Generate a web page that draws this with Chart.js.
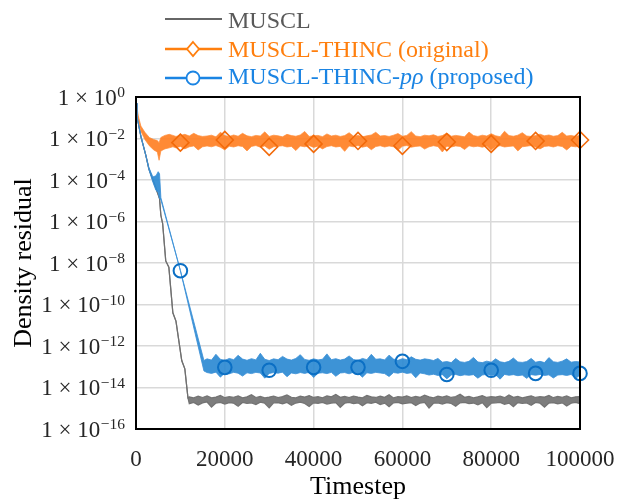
<!DOCTYPE html>
<html>
<head>
<meta charset="utf-8">
<script src="https://cdn.jsdelivr.net/npm/chart.js@4.4.0/dist/chart.umd.min.js"></script>
<style>
  body { margin: 0; background: #fff; }
  #wrap { position: relative; width: 618px; height: 504px; font-family: 'Liberation Serif', 'Times New Roman', serif; }
  #chart { position: absolute; left: 0; top: 0; }
  .leg-line { position: absolute; left: 163px; width: 62px; height: 20px; }
  .leg-text { position: absolute; left: 228px; font-size: 24px; line-height: 28px; white-space: nowrap; }
</style>
</head>
<body>
<div id="wrap">
  <canvas id="chart" width="618" height="504"></canvas>
  <svg class="leg-line" style="top:8.5px" viewBox="0 0 62 20"><line x1="2" y1="10" x2="59" y2="10" stroke="#666666" stroke-width="2.2"/></svg>
  <div class="leg-text" style="top:5.9px; color:#595959">MUSCL</div>
  <svg class="leg-line" style="top:39px" viewBox="0 0 62 20"><line x1="2" y1="10" x2="59" y2="10" stroke="#ff7f0e" stroke-width="2.5"/><polygon points="30,3 36,10 30,17 24,10" fill="#fff" stroke="#ff7f0e" stroke-width="1.8"/></svg>
  <div class="leg-text" style="top:35.4px; color:#ff7f0e">MUSCL-THINC (original)</div>
  <svg class="leg-line" style="top:67.5px" viewBox="0 0 62 20"><line x1="2" y1="10" x2="59" y2="10" stroke="#1a84e3" stroke-width="2.5"/><circle cx="30" cy="10" r="6.5" fill="#fff" stroke="#1a84e3" stroke-width="1.8"/></svg>
  <div class="leg-text" style="top:61.9px; color:#1a84e3">MUSCL-THINC-<i>pρ</i> (proposed)</div>
</div>
<script>
// all residual values are log10 exponents
const yTickExps = [0, -2, -4, -6, -8, -10, -12, -14, -16];

// steady noisy part, sampled every 1000 steps
const bandSteps = [
  16000, 17000, 18000, 19000, 20000, 21000, 22000, 23000, 24000, 25000,
  26000, 27000, 28000, 29000, 30000, 31000, 32000, 33000, 34000, 35000,
  36000, 37000, 38000, 39000, 40000, 41000, 42000, 43000, 44000, 45000,
  46000, 47000, 48000, 49000, 50000, 51000, 52000, 53000, 54000, 55000,
  56000, 57000, 58000, 59000, 60000, 61000, 62000, 63000, 64000, 65000,
  66000, 67000, 68000, 69000, 70000, 71000, 72000, 73000, 74000, 75000,
  76000, 77000, 78000, 79000, 80000, 81000, 82000, 83000, 84000, 85000,
  86000, 87000, 88000, 89000, 90000, 91000, 92000, 93000, 94000, 95000,
  96000, 97000, 98000, 99000, 100000
];

// MUSCL (gray)
const grayTransSteps = [0, 200, 1100, 2200, 2900, 3800, 4500, 5300, 5600, 6000, 6700, 7400, 8300, 9000, 10300, 11000, 11700, 12000, 13000, 14000, 15000];
const grayTransHi = [-0.3, -0.9, -1.9, -2.8, -3.46, -4.0, -4.4, -4.9, -5.7, -6.1, -7.9, -8.2, -10.4, -10.8, -12.7, -13.1, -14.5, -14.45, -14.5, -14.42, -14.48];
const grayTransLo = [-0.3, -0.9, -1.9, -2.8, -3.46, -4.0, -4.4, -4.9, -5.7, -6.1, -7.9, -8.2, -10.4, -10.8, -12.7, -13.1, -14.5, -14.78, -14.72, -14.85, -14.74];
const grayBandHi = [
  -14.4, -14.5, -14.46, -14.38, -14.49, -14.44, -14.47, -14.4, -14.5, -14.45,
  -14.35, -14.48, -14.43, -14.5, -14.46, -14.41, -14.49, -14.44, -14.36, -14.47,
  -14.5, -14.42, -14.46, -14.39, -14.48, -14.44, -14.5, -14.4, -14.45, -14.33,
  -14.47, -14.43, -14.49, -14.41, -14.46, -14.5, -14.38, -14.45, -14.48, -14.42,
  -14.47, -14.35, -14.5, -14.44, -14.46, -14.4, -14.49, -14.43, -14.47, -14.37,
  -14.45, -14.5, -14.42, -14.46, -14.4, -14.48, -14.44, -14.32, -14.47, -14.43,
  -14.5, -14.45, -14.39, -14.48, -14.44, -14.46, -14.41, -14.49, -14.36, -14.47,
  -14.43, -14.5, -14.45, -14.4, -14.48, -14.44, -14.46, -14.38, -14.49, -14.43,
  -14.47, -14.41, -14.5, -14.45, -14.44
];
const grayBandLo = [
  -14.7, -14.95, -14.75, -14.72, -14.8, -14.73, -14.76, -14.9, -14.72, -14.77,
  -14.74, -14.82, -14.71, -14.76, -14.98, -14.74, -14.73, -14.79, -14.72, -14.86,
  -14.75, -14.71, -14.77, -14.92, -14.74, -14.76, -14.72, -14.8, -14.75, -14.73,
  -14.96, -14.76, -14.72, -14.78, -14.74, -14.88, -14.73, -14.76, -14.71, -14.82,
  -14.75, -14.93, -14.74, -14.72, -14.79, -14.76, -14.73, -14.87, -14.75, -14.72,
  -14.99, -14.76, -14.74, -14.8, -14.73, -14.77, -14.9, -14.74, -14.72, -14.78,
  -14.75, -14.84, -14.73, -14.97, -14.76, -14.74, -14.72, -14.81, -14.75, -14.93,
  -14.73, -14.77, -14.74, -14.86, -14.72, -14.76, -14.95, -14.75, -14.73, -14.79,
  -14.74, -14.89, -14.76, -14.72, -14.78
];

// MUSCL-THINC original (orange)
const orangeTransSteps = [0, 500, 1100, 2000, 3000, 4000, 4800, 5200, 5600, 6500, 7500, 8300, 9000, 10000, 11000, 12000, 13000, 14000, 15000];
const orangeTransHi = [-0.15, -0.9, -1.4, -1.7, -1.95, -2.05, -2.1, -2.2, -1.95, -1.85, -1.8, -1.85, -1.9, -1.85, -1.8, -1.88, -1.75, -1.86, -1.9];
const orangeTransLo = [-0.25, -1.05, -1.65, -2.05, -2.35, -2.55, -2.65, -3.05, -2.6, -2.5, -2.45, -2.4, -2.45, -2.38, -2.5, -2.4, -2.36, -2.55, -2.4];
const orangeBandHi = [
  -1.88, -1.84, -1.92, -1.7, -1.86, -1.9, -1.83, -1.89, -1.75, -1.87,
  -1.91, -1.85, -1.88, -1.68, -1.9, -1.84, -1.87, -1.92, -1.8, -1.86,
  -1.89, -1.83, -1.66, -1.9, -1.87, -1.85, -1.91, -1.78, -1.88, -1.84,
  -1.9, -1.86, -1.72, -1.89, -1.85, -1.92, -1.87, -1.83, -1.7, -1.88,
  -1.86, -1.9, -1.84, -1.76, -1.89, -1.85, -1.67, -1.88, -1.91, -1.84,
  -1.87, -1.82, -1.9, -1.86, -1.74, -1.89, -1.85, -1.88, -1.92, -1.69,
  -1.86, -1.9, -1.84, -1.88, -1.77, -1.87, -1.91, -1.65, -1.86, -1.89,
  -1.84, -1.72, -1.88, -1.9, -1.85, -1.79, -1.87, -1.83, -1.89, -1.86,
  -1.7, -1.88, -1.85, -1.9, -1.84
];
const orangeBandLo = [
  -2.36, -2.4, -2.34, -2.42, -2.55, -2.37, -2.41, -2.35, -2.39, -2.6,
  -2.38, -2.34, -2.42, -2.36, -2.52, -2.4, -2.37, -2.35, -2.41, -2.38,
  -2.58, -2.36, -2.4, -2.34, -2.43, -2.37, -2.5, -2.39, -2.35, -2.41,
  -2.38, -2.62, -2.36, -2.4, -2.34, -2.42, -2.37, -2.54, -2.39, -2.35,
  -2.41, -2.36, -2.4, -2.57, -2.37, -2.34, -2.42, -2.38, -2.36, -2.51,
  -2.4, -2.35, -2.39, -2.65, -2.37, -2.41, -2.36, -2.38, -2.53, -2.35,
  -2.4, -2.37, -2.42, -2.36, -2.56, -2.39, -2.35, -2.41, -2.38, -2.36,
  -2.6, -2.4, -2.37, -2.34, -2.42, -2.5, -2.38, -2.36, -2.41, -2.35,
  -2.39, -2.55, -2.37, -2.4, -2.36
];

// MUSCL-THINC-p rho proposed (blue)
const blueTransSteps = [0, 200, 1100, 2200, 2900, 3800, 4500, 5000, 5300, 5600, 10000, 15300];
const blueTransHi = [-0.3, -0.9, -1.9, -2.8, -3.4, -3.85, -3.8, -3.6, -3.7, -4.85, -8.37, -12.7];
const blueTransLo = [-0.3, -0.9, -1.9, -2.8, -3.5, -4.1, -4.5, -4.6, -4.9, -4.95, -8.37, -13.2];
const blueBandHi = [
  -12.62, -12.68, -12.4, -12.64, -12.7, -12.6, -12.66, -12.45, -12.63, -12.69,
  -12.61, -12.67, -12.35, -12.64, -12.7, -12.62, -12.66, -12.5, -12.63, -12.68,
  -12.6, -12.42, -12.65, -12.69, -12.62, -12.67, -12.64, -12.38, -12.66, -12.61,
  -12.68, -12.63, -12.48, -12.65, -12.7, -12.6, -12.66, -12.4, -12.64, -12.62,
  -12.67, -12.44, -12.63, -12.69, -12.61, -12.66, -12.52, -12.64, -12.68, -12.62,
  -12.65, -12.7, -12.6, -12.78, -12.75, -12.8, -12.6, -12.76, -12.79, -12.74,
  -12.55, -12.77, -12.8, -12.73, -12.78, -12.62, -12.76, -12.8, -12.74, -12.58,
  -12.77, -12.79, -12.75, -12.6, -12.78, -12.74, -12.8, -12.56, -12.76, -12.79,
  -12.73, -12.62, -12.78, -12.75, -12.77
];
const blueBandLo = [
  -13.28, -13.32, -13.26, -13.5, -13.3, -13.34, -13.27, -13.31, -13.45, -13.29,
  -13.33, -13.27, -13.3, -13.55, -13.32, -13.28, -13.31, -13.26, -13.48, -13.3,
  -13.34, -13.28, -13.32, -13.27, -13.52, -13.31, -13.29, -13.33, -13.27, -13.46,
  -13.3, -13.28, -13.34, -13.26, -13.31, -13.5, -13.29, -13.32, -13.27, -13.3,
  -13.33, -13.47, -13.28, -13.31, -13.26, -13.32, -13.29, -13.53, -13.3, -13.34,
  -13.4, -13.36, -13.42, -13.38, -13.58, -13.4, -13.37, -13.43, -13.39, -13.41,
  -13.38, -13.55, -13.4, -13.36, -13.42, -13.39, -13.6, -13.37, -13.41, -13.38,
  -13.43, -13.4, -13.56, -13.38, -13.41, -13.37, -13.42, -13.39, -13.54, -13.4,
  -13.38, -13.42, -13.37, -13.57, -13.4
];

// markers every 10000 steps
const markSteps = [10000, 20000, 30000, 40000, 50000, 60000, 70000, 80000, 90000, 100000];
const orangeMarks = [-2.2, -2.07, -2.4, -2.26, -2.12, -2.35, -2.17, -2.26, -2.12, -2.07];
const blueMarks = [-8.37, -13.03, -13.17, -13.03, -13.03, -12.74, -13.37, -13.17, -13.32, -13.32];

function pts(steps, exps) {
    return steps.map((s, i) => ({ x: s, y: Math.pow(10, exps[i]) }));
}

function bandSets(transSteps, transHi, transLo, bandHi, bandLo, line, fillCol, width) {
    const steps = transSteps.concat(bandSteps);
    const common = { borderColor: line, borderWidth: width, pointRadius: 0, tension: 0 };
    return [
        Object.assign({ data: pts(steps, transHi.concat(bandHi)), fill: false }, common),
        Object.assign({ data: pts(steps, transLo.concat(bandLo)), fill: '-1', backgroundColor: fillCol }, common)
    ];
}

const SERIF = "'Liberation Serif', 'Times New Roman', serif";
Chart.defaults.font.family = SERIF;

const frameAndLabels = {
    id: 'frameAndLabels',
    afterDraw(chart) {
        const { ctx, chartArea, scales } = chart;
        ctx.save();
        ctx.strokeStyle = '#000';
        ctx.lineWidth = 2;
        ctx.strokeRect(chartArea.left, chartArea.top, chartArea.right - chartArea.left, chartArea.bottom - chartArea.top);
        ctx.fillStyle = '#262626';
        ctx.textAlign = 'right';
        ctx.textBaseline = 'alphabetic';
        const right = 125;
        yTickExps.forEach(e => {
            const py = scales.y.getPixelForValue(Math.pow(10, e));
            const exp = e === 0 ? '0' : '\u2212' + (-e);
            ctx.font = '15.5px ' + SERIF;
            const we = ctx.measureText(exp).width;
            ctx.fillText(exp, right, py);
            ctx.font = '23px ' + SERIF;
            ctx.fillText('1 \u00d7 10', right - we - 0.5, py + 7.5);
        });
        ctx.restore();
    }
};

new Chart(document.getElementById('chart'), {
    type: 'line',
    data: {
        datasets: [
            {
                data: pts(markSteps, orangeMarks), showLine: false, clip: false,
                pointStyle: 'rectRot', pointRadius: 8.5, pointBorderWidth: 1.6,
                pointBorderColor: '#f26a0a', pointBackgroundColor: 'rgba(0,0,0,0)'
            },
            {
                data: pts(markSteps, blueMarks), showLine: false, clip: false,
                pointStyle: 'circle', pointRadius: 6.8, pointBorderWidth: 2,
                pointBorderColor: '#0b6fc4', pointBackgroundColor: 'rgba(0,0,0,0)'
            },
            ...bandSets(blueTransSteps, blueTransHi, blueTransLo, blueBandHi, blueBandLo, 'rgba(60,145,215,0.85)', 'rgba(45,138,210,0.92)', 1),
            ...bandSets(orangeTransSteps, orangeTransHi, orangeTransLo, orangeBandHi, orangeBandLo, 'rgba(255,140,55,0.7)', 'rgba(255,128,36,0.92)', 1),
            ...bandSets(grayTransSteps, grayTransHi, grayTransLo, grayBandHi, grayBandLo, 'rgba(112,112,112,0.95)', 'rgba(118,118,118,0.95)', 1.2)
        ]
    },
    options: {
        responsive: false,
        animation: false,
        devicePixelRatio: 1,
        layout: { padding: { top: 97, right: 38, left: 0, bottom: 0 } },
        plugins: { legend: { display: false }, tooltip: { enabled: false } },
        scales: {
            x: {
                type: 'linear',
                min: 0,
                max: 100000,
                afterFit: s => { s.height = 75; s.paddingLeft = 0; s.paddingRight = 0; },
                ticks: {
                    stepSize: 20000, maxRotation: 0, autoSkip: false, padding: 17,
                    color: '#262626', font: { size: 23 },
                    callback: v => String(v)
                },
                grid: { color: '#d9d9d9', lineWidth: 1.5, drawTicks: false },
                border: { display: false },
                title: { display: true, text: 'Timestep', color: '#000', font: { size: 26 }, padding: { top: 0, bottom: 1.4 } }
            },
            y: {
                type: 'logarithmic',
                min: 1e-16,
                max: 1,
                afterBuildTicks: s => { s.ticks = yTickExps.map(e => ({ value: Math.pow(10, e) })); },
                afterFit: s => { s.width = 136; },
                ticks: { display: false },
                grid: { color: '#d9d9d9', lineWidth: 1.5, drawTicks: false },
                border: { display: false },
                title: { display: true, text: 'Density residual', color: '#000', font: { size: 26 }, padding: { top: 8.6, bottom: 0 } }
            }
        }
    },
    plugins: [frameAndLabels]
});
</script>
</body>
</html>
